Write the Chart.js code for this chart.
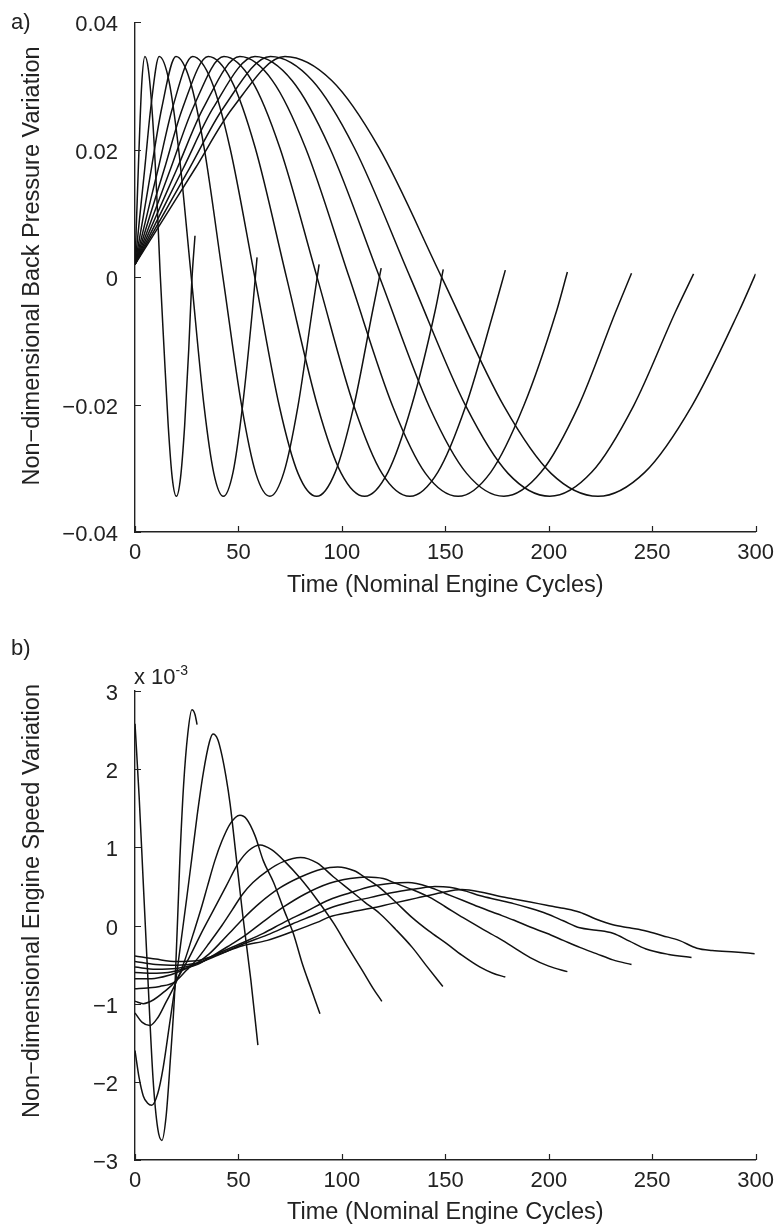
<!DOCTYPE html>
<html>
<head>
<meta charset="utf-8">
<title>Back pressure and engine speed variation</title>
<script src="https://cdn.jsdelivr.net/npm/chart.js@4.4.1/dist/chart.umd.min.js"></script>
<style>
  body { margin: 0; background: #fff; }
  #wrap { position: relative; width: 774px; height: 1227px; font-family: "Liberation Sans", Arial, sans-serif; color: #222; }
  #wrap canvas { position: absolute; left: 0; }
  #chartA { top: 0; }
  #chartB { top: 610px; }
  .panel { position: absolute; font-size: 22px; line-height: 22px; }
  .ytitle { position: absolute; left: 31px; font-size: 23.5px; line-height: 26px; white-space: nowrap;
            transform: translate(-50%, -50%) rotate(-90deg); }
  #expo { position: absolute; left: 134px; top: 666px; font-size: 22px; line-height: 22px; white-space: nowrap; }
  #expo sup { font-size: 14px; vertical-align: 9px; line-height: 0; }
</style>
</head>
<body>
<div id="wrap">
  <canvas id="chartA" width="774" height="610"></canvas>
  <canvas id="chartB" width="774" height="617"></canvas>
  <div class="panel" style="left:11px; top:11px;">a)</div>
  <div class="panel" style="left:11px; top:637px;">b)</div>
  <div class="ytitle" style="top:266px;">Non−dimensional Back Pressure Variation</div>
  <div class="ytitle" style="top:901px;">Non−dimensional Engine Speed Variation</div>
  <div id="expo">x 10<sup>-3</sup></div>
</div>
<script>
// --- data: time (nominal engine cycles) and variation ---
const timeTicks = [0, 50, 100, 150, 200, 250, 300];
const pressureTicks = [-0.04, -0.02, 0, 0.02, 0.04];
const speedTicks = [-3, -2, -1, 0, 1, 2, 3];   // x 10^-3

// a) back pressure, one run per forcing period
const pressure1 = [[0,0.002],[1.6,0.017],[3.2,0.030],[4.8,0.0346],[6.5,0.0325],[8.5,0.025],[10.5,0.013],[12.1,0.001],[14,-0.011],[16,-0.023],[18,-0.0315],[20,-0.0344],[22,-0.0315],[24,-0.0233],[26,-0.0112],[27.4,-0.001],[29,0.0065]];
const pressure2 = [[0,0.002],[2.3,0.0095],[4.7,0.017],[7.6,0.0265],[11.7,0.0346],[16.4,0.0308],[21.0,0.0203],[27.2,0],[33.4,-0.0203],[38.1,-0.0308],[42.7,-0.0344],[47.4,-0.0306],[52.0,-0.0202],[56.7,-0.0054],[59,0.0031]];
const pressure3 = [[0,0.002],[4.0,0.0095],[7.9,0.017],[12.9,0.0265],[19.8,0.0346],[26.6,0.0308],[33.4,0.0203],[42.5,0],[51.6,-0.0203],[58.4,-0.0308],[65.2,-0.0344],[72.0,-0.0306],[78.8,-0.0202],[85.6,-0.0054],[89,0.002]];
const pressure4 = [[0,0.002],[5.6,0.0095],[11.2,0.017],[18.1,0.0265],[27.9,0.0346],[36.9,0.0308],[45.9,0.0203],[57.9,0],[69.8,-0.0203],[78.8,-0.0308],[87.8,-0.0344],[96.8,-0.0306],[105.8,-0.0202],[114.8,-0.0054],[119,0.0014]];
const pressure5 = [[0,0.002],[7.1,0.0095],[14.2,0.017],[23.0,0.0265],[35.4,0.0346],[46.7,0.0308],[58.1,0.0203],[73.2,0],[88.3,-0.0203],[99.7,-0.0308],[111,-0.0344],[122.3,-0.0306],[133.7,-0.0202],[145.0,-0.0054],[149,0.0012]];
const pressure6 = [[0,0.002],[8.6,0.0095],[17.2,0.017],[28.0,0.0265],[43,0.0346],[56.5,0.0308],[70.0,0.0203],[88.0,0],[105.9,-0.0203],[119.4,-0.0308],[132.9,-0.0344],[146.4,-0.0306],[159.9,-0.0202],[173.4,-0.0054],[179,0.0011]];
const pressure7 = [[0,0.002],[10.1,0.0095],[20.3,0.017],[33.0,0.0265],[50.7,0.0346],[66.5,0.0308],[82.4,0.0203],[103.5,0],[124.6,-0.0203],[140.4,-0.0308],[156.2,-0.0344],[172.0,-0.0306],[187.9,-0.0202],[203.7,-0.0054],[209,0.0008]];
const pressure8 = [[0,0.002],[11.6,0.0095],[23.2,0.017],[37.7,0.0265],[58,0.0346],[76.0,0.0308],[94.1,0.0203],[118.2,0],[142.2,-0.0203],[160.3,-0.0308],[178.3,-0.0344],[196.3,-0.0306],[214.4,-0.0202],[232.4,-0.0054],[240,0.0006]];
const pressure9 = [[0,0.002],[13.1,0.0095],[26.2,0.017],[42.6,0.0265],[65.5,0.0346],[85.8,0.0308],[106.0,0.0203],[133.0,0],[160.0,-0.0203],[180.3,-0.0308],[200.5,-0.0344],[220.8,-0.0306],[241.0,-0.0202],[261.3,-0.0054],[270,0.0005]];
const pressure10 = [[0,0.002],[14.5,0.0095],[29.0,0.017],[47.1,0.0265],[72.5,0.0346],[95.2,0.0308],[117.9,0.0203],[148.2,0],[178.4,-0.0203],[201.1,-0.0308],[223.8,-0.0344],[246.5,-0.0306],[269.2,-0.0202],[291.9,-0.0054],[300,0.0005]];

// b) engine speed, same runs (units of 10^-3)
const speed1 = [[0,2.58],[2,1.65],[3.9,0.6],[6,-0.55],[8.7,-1.95],[11,-2.6],[13,-2.75],[15,-2.45],[17,-1.75],[19.3,-0.79],[21.7,0.85],[23.5,1.8],[25.5,2.45],[27.5,2.76],[29,2.7],[30,2.57]];
const speed2 = [[0,-1.6],[2,-1.95],[4,-2.18],[6,-2.27],[8.1,-2.3],[11,-2.15],[13.6,-1.82],[16.5,-1.3],[19.3,-0.79],[22,-0.25],[25,0.35],[27.4,0.85],[30,1.4],[33,1.95],[36,2.35],[37.7,2.45],[40,2.38],[42,2.18],[44,1.9],[46,1.55],[48.8,0.9],[52,0.15],[56,-0.7],[59.4,-1.53]];
const speed3 = [[0,-1.12],[3.5,-1.24],[7.2,-1.28],[11,-1.18],[15,-0.98],[19.3,-0.76],[24,-0.45],[28,-0.12],[32,0.22],[35,0.5],[38.6,0.83],[42,1.08],[46,1.3],[50.7,1.41],[54,1.36],[58,1.15],[62,0.83],[67,0.55],[72,0.2],[76.5,-0.1],[81,-0.5],[85,-0.8],[89.4,-1.13]];
const speed4 = [[0,-0.97],[4,-1.0],[9,-0.95],[14,-0.85],[19.3,-0.72],[26,-0.42],[32,-0.1],[38,0.2],[44,0.5],[50,0.8],[55,0.96],[60.5,1.03],[66,0.97],[72,0.83],[80,0.6],[88,0.33],[96,0.03],[103,-0.28],[110,-0.58],[115,-0.8],[119.3,-0.97]];
const speed5 = [[0,-0.81],[6,-0.8],[12,-0.78],[19.3,-0.72],[25,-0.57],[30,-0.43],[36,-0.22],[42,0.0],[47,0.2],[52,0.4],[57,0.55],[64,0.7],[72,0.82],[80,0.87],[88,0.8],[96,0.62],[104,0.45],[111,0.3],[118.4,0.15],[126,-0.05],[134,-0.28],[141,-0.52],[148.8,-0.78]];
const speed6 = [[0,-0.68],[8,-0.68],[16,-0.64],[24,-0.56],[30,-0.48],[36,-0.36],[42,-0.2],[47,-0.06],[52,0.08],[60,0.28],[70,0.48],[80,0.62],[90,0.72],[98,0.75],[106,0.7],[112,0.6],[118,0.49],[126,0.3],[134,0.1],[142,-0.07],[150.5,-0.23],[158,-0.38],[166.6,-0.53],[173,-0.61],[179,-0.66]];
const speed7 = [[0,-0.6],[8,-0.61],[16,-0.6],[24,-0.55],[30,-0.5],[38,-0.38],[46,-0.25],[52,-0.15],[62,0.05],[72,0.24],[82,0.4],[94,0.54],[104,0.6],[112,0.62],[120,0.6],[126,0.54],[134,0.46],[142.5,0.36],[150,0.24],[158.6,0.1],[167,-0.03],[175,-0.15],[183,-0.28],[191,-0.41],[200,-0.52],[209,-0.59]];
const speed8 = [[0,-0.53],[10,-0.56],[20,-0.55],[30,-0.49],[40,-0.36],[52,-0.22],[62,-0.1],[72,0.04],[82,0.17],[94,0.33],[104,0.42],[114,0.5],[124,0.54],[132,0.55],[142.5,0.49],[150,0.41],[158.6,0.32],[167,0.23],[175,0.15],[183,0.07],[191,-0.02],[199,-0.1],[207,-0.19],[215,-0.28],[223,-0.36],[231,-0.44],[240,-0.5]];
const speed9 = [[0,-0.46],[10,-0.5],[20,-0.51],[30,-0.48],[40,-0.38],[52,-0.24],[64,-0.12],[76,0.02],[88,0.15],[94,0.22],[104,0.3],[114,0.36],[124,0.42],[136,0.47],[145,0.5],[152,0.49],[160,0.44],[167,0.38],[175,0.33],[183,0.28],[191,0.22],[199,0.15],[207,0.06],[215,-0.03],[223,-0.06],[231,-0.1],[239,-0.2],[247,-0.3],[258,-0.37],[269,-0.41]];
const speed10 = [[0,-0.39],[10,-0.43],[20,-0.46],[30,-0.45],[40,-0.37],[52,-0.26],[64,-0.19],[76,-0.08],[88,0.04],[94,0.11],[104,0.17],[114,0.22],[124,0.28],[136,0.35],[148,0.42],[158,0.46],[167,0.43],[175,0.38],[183,0.34],[191,0.3],[199,0.26],[207,0.22],[215,0.17],[223,0.08],[231,0.01],[239,-0.03],[247,-0.07],[255,-0.13],[263,-0.19],[271.6,-0.29],[279,-0.32],[290,-0.34],[299.5,-0.36]];

const pressureRuns = [pressure1, pressure2, pressure3, pressure4, pressure5, pressure6, pressure7, pressure8, pressure9, pressure10];
const speedRuns = [speed1, speed2, speed3, speed4, speed5, speed6, speed7, speed8, speed9, speed10];

const FONT = 'Liberation Sans';
const INK = '#222';
const minus = s => s.replace('-', '\u2212');

// MATLAB style ticks pointing into the plot
const innerTicks = {
    id: 'innerTicks',
    afterDraw(chart) {
        const { ctx, chartArea, scales } = chart;
        ctx.save();
        ctx.strokeStyle = INK;
        ctx.lineWidth = 1.2;
        ctx.beginPath();
        scales.x.ticks.forEach(t => {
            const px = Math.round(scales.x.getPixelForValue(t.value)) + 0.5;
            ctx.moveTo(px, chartArea.bottom);
            ctx.lineTo(px, chartArea.bottom - 6);
        });
        scales.y.ticks.forEach(t => {
            const py = Math.round(scales.y.getPixelForValue(t.value)) + 0.5;
            ctx.moveTo(chartArea.left, py);
            ctx.lineTo(chartArea.left + 6, py);
        });
        ctx.stroke();
        ctx.restore();
    }
};

function runSets(runs) {
    return runs.map(run => ({
        data: run,
        borderColor: '#111',
        borderWidth: 1.5,
        pointRadius: 0,
        fill: false,
        cubicInterpolationMode: 'monotone'
    }));
}

function buildChart(canvasId, runs, yTicks, yFormat, padTop, xHeight, xTitlePad) {
    return new Chart(document.getElementById(canvasId), {
        type: 'line',
        data: { datasets: runSets(runs) },
        plugins: [innerTicks],
        options: {
            responsive: false,
            animation: false,
            devicePixelRatio: 1,
            events: [],
            layout: { padding: { left: 0, right: 18, top: padTop, bottom: 0 } },
            plugins: { legend: { display: false }, tooltip: { enabled: false } },
            scales: {
                x: {
                    type: 'linear',
                    min: timeTicks[0],
                    max: timeTicks[timeTicks.length - 1],
                    afterBuildTicks: s => { s.ticks = timeTicks.map(v => ({ value: v })); },
                    afterFit: s => { s.height = xHeight; },
                    grid: { display: false },
                    border: { display: true, color: INK, width: 1.4 },
                    ticks: { color: INK, padding: 0, maxRotation: 0, font: { family: FONT, size: 22 }, callback: v => String(v) },
                    title: { display: true, text: 'Time (Nominal Engine Cycles)', color: INK, font: { family: FONT, size: 23.5 }, padding: { top: 0, bottom: xTitlePad } }
                },
                y: {
                    min: yTicks[0],
                    max: yTicks[yTicks.length - 1],
                    afterBuildTicks: s => { s.ticks = yTicks.map(v => ({ value: v })); },
                    afterFit: s => { s.width = 135; },
                    grid: { display: false },
                    border: { display: true, color: INK, width: 1.4 },
                    ticks: { color: INK, padding: 9, labelOffset: 3, font: { family: FONT, size: 22 }, callback: yFormat }
                }
            }
        }
    });
}

buildChart('chartA', pressureRuns, pressureTicks,
    v => Math.abs(v) < 1e-9 ? '0' : minus(v.toFixed(2)), 19, 78, 10);

buildChart('chartB', speedRuns, speedTicks,
    v => minus(String(Math.round(v))), 81, 67, 0);
</script>
</body>
</html>
